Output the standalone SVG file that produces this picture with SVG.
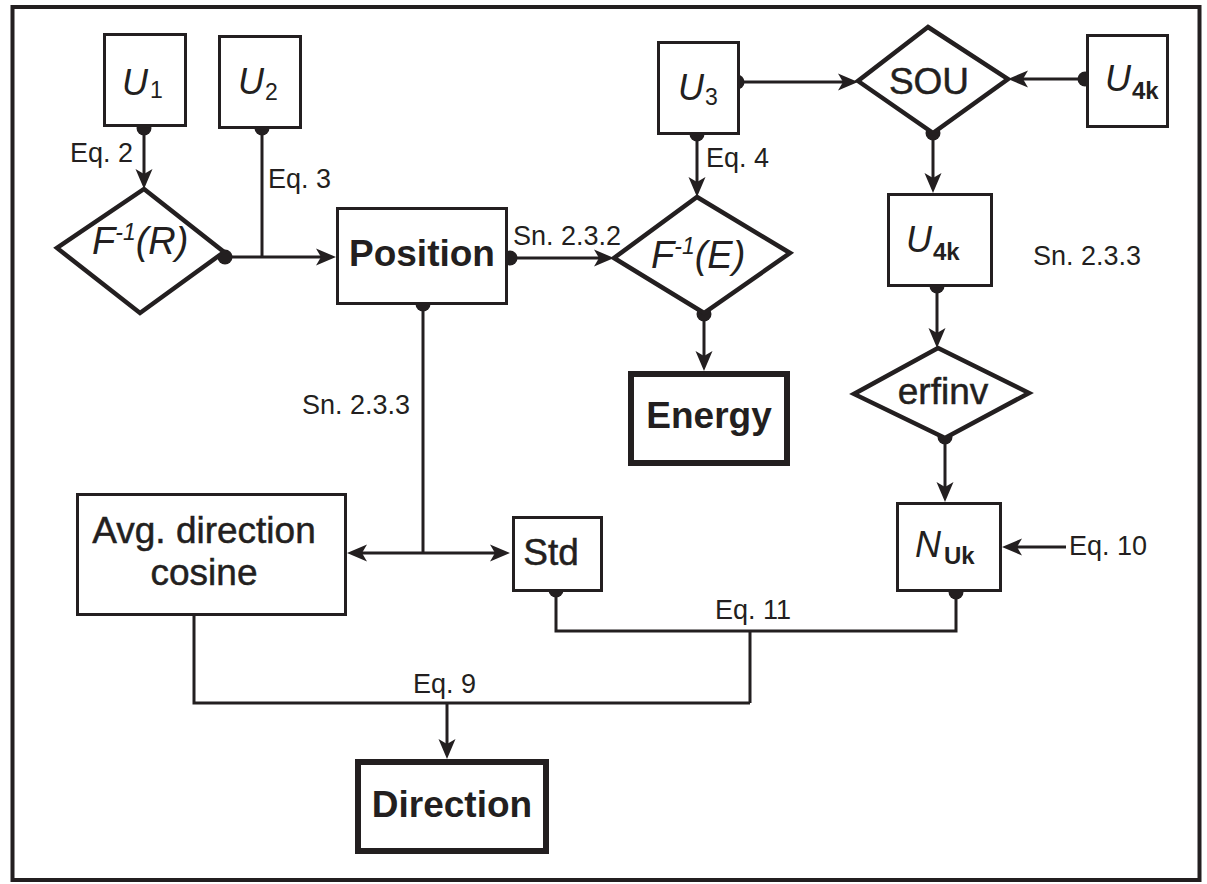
<svg xmlns="http://www.w3.org/2000/svg" width="1207" height="884" viewBox="0 0 1207 884">
<style>
.box{fill:#fff;stroke:#231f20;stroke-width:3}
.thick{fill:#fff;stroke:#231f20;stroke-width:6}
.dia{fill:#fff;stroke:#231f20;stroke-width:4.5;stroke-linejoin:miter}
.ln{fill:none;stroke:#231f20;stroke-width:3}
.dot{fill:#231f20}
text{font-family:"Liberation Sans",Arial,Helvetica,sans-serif;fill:#231f20}
.lbl{font-size:27px}
.node{font-size:37px;stroke:#231f20;stroke-width:0.5}
.var{font-size:36px;font-style:italic}
.bold{font-size:37px;font-weight:bold}
.it{font-style:italic}
.sub{font-size:23px}
.subb{font-size:24px;font-weight:bold}
</style>
<defs>
<marker id="arr" viewBox="-22 -10 24 20" refX="-10" refY="0" markerWidth="24" markerHeight="20" markerUnits="userSpaceOnUse" orient="auto">
<path d="M0,0 L-20,-8.5 L-15,0 L-20,8.5 Z" fill="#231f20"/>
</marker>
</defs>
<rect x="0" y="0" width="1207" height="884" fill="#fff"/>
<rect x="12.5" y="7" width="1187" height="873" fill="none" stroke="#231f20" stroke-width="4"/>

<g id="connectors">
<path class="ln" d="M144,128 V179" marker-end="url(#arr)"/>
<path class="ln" d="M262,128 V257"/>
<path class="ln" d="M225,257 H326" marker-end="url(#arr)"/>
<path class="ln" d="M510,258 H604" marker-end="url(#arr)"/>
<path class="ln" d="M423,303 V553"/>
<path class="ln" d="M423,553 H357" marker-end="url(#arr)"/>
<path class="ln" d="M423,553 H500" marker-end="url(#arr)"/>
<path class="ln" d="M737,82 H848" marker-end="url(#arr)"/>
<path class="ln" d="M697,133 V187" marker-end="url(#arr)"/>
<path class="ln" d="M1085,79 H1018" marker-end="url(#arr)"/>
<path class="ln" d="M933,133 V183" marker-end="url(#arr)"/>
<path class="ln" d="M704,314 V361" marker-end="url(#arr)"/>
<path class="ln" d="M937,285 V338" marker-end="url(#arr)"/>
<path class="ln" d="M945,437 V492" marker-end="url(#arr)"/>
<path class="ln" d="M1066,547 H1012" marker-end="url(#arr)"/>
<path class="ln" d="M556,589 V631 H956 V592"/>
<path class="ln" d="M750,631 V703"/>
<path class="ln" d="M194,616 V703 H750"/>
<path class="ln" d="M447,703 V749" marker-end="url(#arr)"/>
<circle class="dot" cx="144" cy="128" r="7.5"/>
<circle class="dot" cx="262" cy="128" r="7.5"/>
<circle class="dot" cx="225" cy="257" r="7.5"/>
<circle class="dot" cx="510" cy="258" r="7.5"/>
<circle class="dot" cx="423" cy="304" r="7.5"/>
<circle class="dot" cx="737" cy="82" r="7.5"/>
<circle class="dot" cx="697" cy="134" r="7.5"/>
<circle class="dot" cx="1085" cy="79" r="7.5"/>
<circle class="dot" cx="933" cy="133" r="7.5"/>
<circle class="dot" cx="704" cy="314" r="7.5"/>
<circle class="dot" cx="937" cy="286" r="7.5"/>
<circle class="dot" cx="945" cy="437" r="7.5"/>
<circle class="dot" cx="556" cy="590" r="7.5"/>
<circle class="dot" cx="956" cy="592" r="7.5"/>
<text class="lbl" x="70" y="162">Eq. 2</text>
<text class="lbl" x="268" y="188">Eq. 3</text>
<text class="lbl" x="706" y="167">Eq. 4</text>
<text class="lbl" x="513" y="245">Sn. 2.3.2</text>
<text class="lbl" x="302" y="414">Sn. 2.3.3</text>
<text class="lbl" x="1033" y="265">Sn. 2.3.3</text>
<text class="lbl" x="1069" y="555">Eq. 10</text>
<text class="lbl" x="715" y="619">Eq. 11</text>
<text class="lbl" x="413" y="693">Eq. 9</text>
</g>

<g id="U1">
<rect class="box" x="104.5" y="34.5" width="81" height="91"/>
<text x="122" y="95"><tspan class="var">U</tspan><tspan class="sub" x="150" y="98">1</tspan></text>
</g>
<g id="U2">
<rect class="box" x="219.5" y="36.5" width="81" height="91"/>
<text x="238" y="94"><tspan class="var">U</tspan><tspan class="sub" x="265" y="100">2</tspan></text>
</g>
<g id="FR">
<polygon class="dia" points="144,189 224,252 140,313 57,248"/>
<text class="it" font-size="38" x="92" y="254">F<tspan font-size="23" dy="-14">-1</tspan><tspan dy="14">(R)</tspan></text>
</g>
<g id="Position">
<rect class="box" x="337.5" y="208.5" width="169" height="95"/>
<text class="bold" x="422" y="266" text-anchor="middle">Position</text>
</g>
<g id="U3">
<rect class="box" x="658.5" y="42.5" width="80" height="91"/>
<text x="678" y="100"><tspan class="var">U</tspan><tspan class="sub" x="705" y="105">3</tspan></text>
</g>
<g id="FE">
<polygon class="dia" points="697,197 790,253 704,313 614,258"/>
<text class="it" font-size="38" x="651" y="268">F<tspan font-size="23" dy="-14">-1</tspan><tspan dy="14">(E)</tspan></text>
</g>
<g id="Energy">
<rect class="thick" x="631" y="374" width="156" height="89"/>
<text class="bold" x="709" y="428" text-anchor="middle">Energy</text>
</g>
<g id="SOU">
<polygon class="dia" points="928,27 1008,79 933,133 858,81"/>
<text class="node" x="929" y="94" text-anchor="middle">SOU</text>
</g>
<g id="U4k-top">
<rect class="box" x="1087.5" y="35.5" width="80" height="91"/>
<text x="1105" y="91"><tspan class="var">U</tspan><tspan class="subb" x="1132" y="99">4k</tspan></text>
</g>
<g id="U4k-mid">
<rect class="box" x="888.5" y="194.5" width="103" height="91"/>
<text x="906" y="252"><tspan class="var">U</tspan><tspan class="subb" x="933" y="260">4k</tspan></text>
</g>
<g id="erfinv">
<polygon class="dia" points="938,348 1029,393 945,438 854,394"/>
<text class="node" x="943" y="404" text-anchor="middle">erfinv</text>
</g>
<g id="NUk">
<rect class="box" x="897.5" y="503.5" width="103" height="87"/>
<text x="915" y="557"><tspan class="var">N</tspan><tspan class="subb" x="944" y="564">Uk</tspan></text>
</g>
<g id="Avg">
<rect class="box" x="77.5" y="494.5" width="268" height="120"/>
<text class="node" x="204" y="543" text-anchor="middle">Avg. direction</text>
<text class="node" x="204" y="585" text-anchor="middle">cosine</text>
</g>
<g id="Std">
<rect class="box" x="513.5" y="517.5" width="88" height="73"/>
<text class="node" x="551" y="565" text-anchor="middle">Std</text>
</g>
<g id="Direction">
<rect class="thick" x="358" y="762" width="188" height="89"/>
<text class="bold" x="452" y="817" text-anchor="middle">Direction</text>
</g>
</svg>
